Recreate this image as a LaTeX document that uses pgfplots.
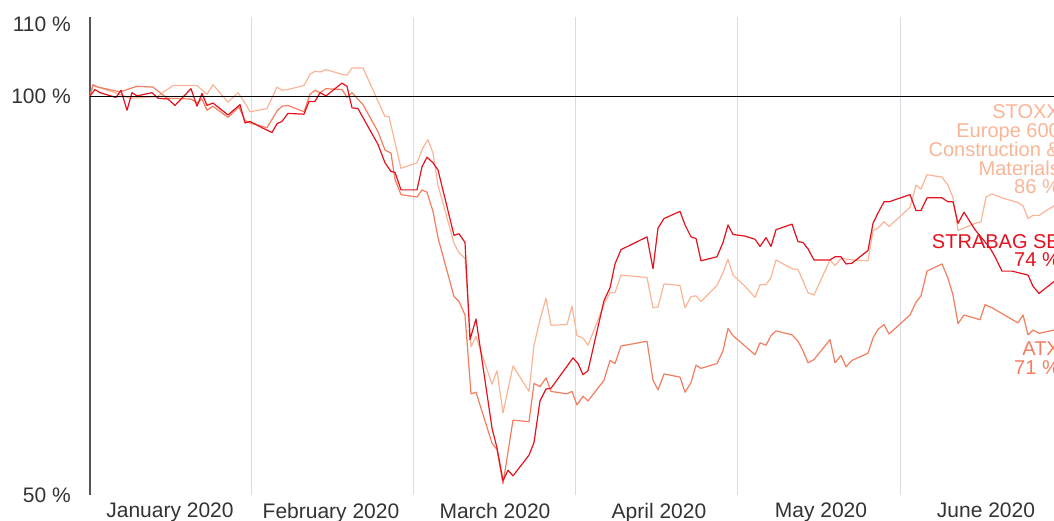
\documentclass[border=0pt]{standalone}
\usepackage{pgfplots}
\pgfplotsset{compat=1.18}
\usepackage{fontspec}
\setmainfont{Liberation Sans}
\definecolor{cstrabag}{HTML}{E3121E}
\definecolor{catx}{HTML}{F27D5F}
\definecolor{cstoxx}{HTML}{FAB496}
\definecolor{gridc}{HTML}{D5DEE8}
\definecolor{axc}{HTML}{555555}
\definecolor{txt}{HTML}{333333}
\begin{document}
\begin{tikzpicture}
\useasboundingbox (-90pt,-26pt) rectangle (964pt,495pt);
\clip (-90pt,-26pt) rectangle (964pt,495pt);
\begin{axis}[
  at={(0,0)}, anchor=south west,
  scale only axis, width=964pt, height=478pt,
  xmin=90, xmax=1054, ymin=50, ymax=110,
  clip=false,
  axis lines*=left,
  x axis line style={draw=none},
  y axis line style={draw=axc, line width=1.5pt},
  major tick length=0pt,
  xtick={170,331,495,659,821,986},
  xticklabels={January 2020, February 2020, March 2020, April 2020, May 2020, June 2020},
  xticklabel style={font=\fontsize{21}{25}\selectfont, text=txt, inner sep=0pt, yshift=-8pt},
  extra x ticks={251,413,575,737,900},
  extra x tick labels={},
  extra x tick style={grid=major, major grid style={draw=gridc, line width=0.9pt}},
  ytick={50,100},
  yticklabels={{50 \%},{100 \%}},
  extra y ticks={110},
  extra y tick labels={{110 \%}},
  extra y tick style={yticklabel style={yshift=-7pt}},
  yticklabel style={font=\fontsize{21}{25}\selectfont, text=txt, inner sep=0pt, xshift=-19pt},
  every axis plot/.append style={line width=1.2pt, line join=round},
]
% STOXX Europe 600 Construction & Materials
\addplot[cstoxx] coordinates {
(90,100.1)(93,101.4)(115,100.5)(130,99.8)(157,100.0)(173,101.4)(197,101.4)(207,100.3)(213,101.5)(228,99.3)(238,100.5)(245,99.2)(250,98.1)(267,98.5)(277,101.2)(282,100.8)(288,100.9)(304,101.4)(310,102.8)(315,103.2)(320,103.1)(326,103.4)(342,102.8)(347,102.7)(352,103.6)(363,103.6)(385,97.5)(389,97.5)(401,91.0)(417,91.7)(423,93.6)(428,94.6)(433,92.9)(438,88.9)(454,81.6)(459,80.4)(465,79.7)(471,68.6)(476,69.9)(492,63.9)(497,65.6)(503,60.3)(513,66.2)(529,63.0)(534,68.8)(540,72.0)(546,74.7)(551,71.3)(567,71.4)(572,73.7)(577,70.0)(583,69.7)(588,68.8)(604,73.9)(610,75.4)(615,75.4)(621,77.6)(647,77.3)(653,73.5)(658,73.6)(664,76.5)(680,76.3)(685,73.5)(691,74.9)(696,75.0)(701,74.3)(717,76.3)(723,77.9)(728,79.6)(733,77.6)(745,76.2)(755,74.8)(760,76.4)(766,76.4)(771,77.3)(776,79.5)(792,78.4)(798,78.3)(803,76.9)(808,75.4)(814,75.1)(830,79.5)(835,78.8)(841,79.7)(852,79.5)(868,79.4)(873,83.2)(878,83.5)(884,84.3)(889,83.7)(910,86.1)(916,88.9)(921,88.4)(927,90.2)(942,89.9)(948,88.9)(953,87.3)(958,83.2)(975,84.1)(981,84.3)(986,87.4)(992,87.8)(1002,87.3)(1018,86.7)(1023,86.3)(1028,84.7)(1033,85.1)(1039,85.1)(1054,86.3)
};
% ATX
\addplot[catx] coordinates {
(90,100.1)(93,101.5)(98,101.2)(120,100.6)(137,101.3)(153,101.2)(160,100.5)(167,99.8)(191,99.7)(197,99.2)(202,99.7)(207,98.3)(213,98.8)(228,97.4)(239,98.7)(245,97.0)(250,96.7)(267,96.1)(277,98.2)(282,98.8)(288,98.9)(304,98.1)(310,100.3)(315,100.8)(320,100.5)(326,101.0)(342,100.9)(347,99.9)(352,100.5)(363,99.0)(378,95.6)(385,93.3)(391,92.9)(395,89.6)(401,87.7)(417,87.4)(422,88.3)(427,88.0)(433,85.6)(438,82.3)(454,74.9)(459,74.3)(465,72.6)(471,62.7)(476,62.9)(492,56.5)(497,55.7)(503,51.4)(513,59.4)(529,59.2)(534,64.0)(540,63.6)(546,64.7)(551,63.0)(567,62.7)(572,63.0)(577,61.3)(583,62.4)(588,61.8)(604,64.4)(610,66.9)(615,66.5)(621,68.7)(647,69.3)(653,64.4)(658,63.2)(664,65.2)(680,64.8)(685,62.9)(691,64.1)(696,66.3)(701,65.9)(717,66.5)(723,68.1)(728,70.9)(733,70.0)(745,68.7)(755,67.6)(760,69.1)(766,68.8)(771,70.0)(776,70.6)(792,70.1)(798,69.3)(803,68.1)(808,66.6)(814,67.0)(830,69.5)(835,66.6)(841,67.5)(846,66.1)(852,66.9)(868,67.8)(873,69.7)(878,70.8)(884,71.4)(889,70.2)(910,72.6)(916,74.2)(921,75.0)(927,78.1)(942,79.0)(948,77.2)(953,75.1)(958,71.5)(964,72.6)(980,72.0)(985,73.9)(992,73.5)(1018,71.6)(1023,72.6)(1028,70.1)(1033,70.7)(1039,70.3)(1054,70.7)
};
% STRABAG SE
\addplot[cstrabag] coordinates {
(90,100.1)(95,100.9)(100,100.5)(116,99.9)(121,100.8)(127,98.3)(132,100.5)(137,100.1)(152,100.5)(158,99.8)(168,99.7)(175,98.9)(191,101.0)(197,98.8)(202,100.4)(207,98.9)(213,99.2)(228,97.7)(240,99.0)(245,96.7)(250,96.9)(262,96.1)(272,95.5)(277,96.6)(282,96.9)(288,97.9)(304,97.8)(309,99.4)(315,99.4)(320,100.5)(326,100.1)(342,101.7)(347,101.3)(352,98.6)(358,98.5)(378,94.0)(385,91.7)(391,90.6)(395,90.5)(401,88.3)(417,88.3)(422,91.2)(427,92.4)(433,91.7)(438,90.8)(454,82.6)(459,82.8)(465,81.7)(470,69.5)(476,72.1)(492,58.4)(497,55.9)(503,51.8)(508,53.1)(513,52.4)(529,55.0)(534,56.6)(540,61.8)(546,63.3)(551,63.4)(573,67.2)(578,66.5)(583,65.1)(588,65.6)(604,74.4)(610,76.0)(615,79.0)(621,80.8)(647,82.4)(653,78.4)(658,83.5)(664,84.7)(680,85.6)(685,83.9)(691,82.4)(696,82.2)(701,79.4)(717,79.9)(723,81.7)(728,83.9)(733,82.7)(745,82.5)(755,82.1)(760,81.2)(766,82.3)(771,81.2)(776,83.3)(792,84.0)(798,81.8)(803,81.7)(808,80.9)(814,79.5)(830,79.5)(835,79.9)(841,79.9)(846,79.0)(852,79.1)(868,80.7)(873,84.1)(878,85.4)(884,86.8)(889,86.8)(910,87.7)(916,85.7)(921,85.7)(927,87.3)(942,87.3)(948,86.8)(953,86.8)(958,84.1)(964,85.5)(975,83.3)(990,81.0)(995,79.9)(1002,78.1)(1012,78.1)(1028,77.6)(1033,76.2)(1039,75.3)(1054,76.8)
};
% 100 % reference line
\addplot[black, line width=1.2pt] coordinates {(90,100) (1054,100)};
% end labels
\node[anchor=east, inner sep=0pt, align=right, text=cstoxx, font=\fontsize{20}{18.5}\selectfont] at (axis cs:1060,93.4) {STOXX\\Europe 600\\Construction \&\\Materials\\86 \%};
\node[anchor=east, inner sep=0pt, align=right, text=cstrabag, font=\fontsize{20}{18.5}\selectfont] at (axis cs:1060,80.7) {STRABAG SE\\74 \%};
\node[anchor=east, inner sep=0pt, align=right, text=catx, font=\fontsize{20}{18.5}\selectfont] at (axis cs:1060,67.2) {ATX\\71 \%};
\end{axis}
\end{tikzpicture}
\end{document}
